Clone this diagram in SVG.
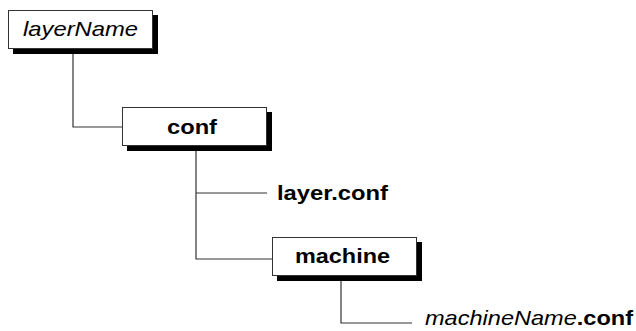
<svg xmlns="http://www.w3.org/2000/svg" width="636" height="331" viewBox="0 0 636 331">
<style>
.shadow{fill:#000}
.box{fill:#fff;stroke:#333;stroke-width:1}
.lbl{font-family:"Liberation Sans",Arial,sans-serif;font-size:21px;fill:#000}
.b{font-weight:bold}
.i{font-style:italic}
.conn{fill:none;stroke:#333;stroke-width:1.2}
</style>
<rect width="636" height="331" fill="#fff"/>
<g id="connectors">
<polyline class="conn" points="73,50 73,127 122,127"/>
<polyline class="conn" points="196,146 196,259 272,259"/>
<line class="conn" x1="196" y1="193" x2="267" y2="193"/>
<polyline class="conn" points="341,276 341,323 412,323"/>
</g>
<g id="layerName">
<rect class="shadow" x="13" y="15" width="145" height="39"/>
<rect class="box" x="8.5" y="10.5" width="144" height="38"/>
<text class="lbl i" x="80.5" y="36" text-anchor="middle" textLength="115" lengthAdjust="spacingAndGlyphs">layerName</text>
</g>
<g id="conf">
<rect class="shadow" x="127" y="112" width="145" height="39"/>
<rect class="box" x="122.5" y="107.5" width="144" height="38"/>
<text class="lbl b" x="192" y="134" text-anchor="middle" textLength="50" lengthAdjust="spacingAndGlyphs">conf</text>
</g>
<g id="layer.conf">
<text class="lbl b" x="277" y="200" textLength="111" lengthAdjust="spacingAndGlyphs">layer.conf</text>
</g>
<g id="machine">
<rect class="shadow" x="277" y="242" width="145" height="39"/>
<rect class="box" x="272.5" y="237.5" width="144" height="38"/>
<text class="lbl b" x="342.5" y="263" text-anchor="middle" textLength="95" lengthAdjust="spacingAndGlyphs">machine</text>
</g>
<g id="machineName.conf">
<text class="lbl" x="425" y="325" textLength="208" lengthAdjust="spacingAndGlyphs"><tspan class="i">machineName</tspan><tspan class="b">.conf</tspan></text>
</g>
</svg>
